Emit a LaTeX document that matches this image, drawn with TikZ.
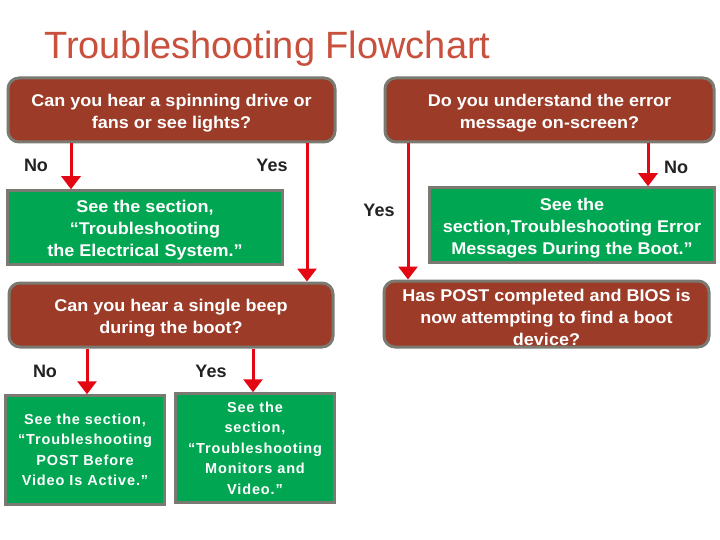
\documentclass[tikz,border=0pt]{standalone}
\usepackage{fontspec}
\setmainfont{Liberation Sans}
\newfontfamily\spaced[LetterSpace=6]{Liberation Sans}
\newfontfamily\wide[FakeStretch=1.06]{Liberation Sans}
\usetikzlibrary{arrows.meta}
\definecolor{titlered}{HTML}{C8503C}
\definecolor{boxred}{HTML}{9C3B27}
\definecolor{boxgreen}{HTML}{00A651}
\definecolor{bordergray}{HTML}{7A7A72}
\definecolor{arrowred}{HTML}{E30613}
\definecolor{labelblack}{HTML}{222222}
\newcommand\dnstrut{\rule{0pt}{18.5pt}}
\tikzset{
  qbox/.style={draw=bordergray, line width=3pt, fill=boxred, rounded corners=11pt,
    text=white, font=\wide\bfseries\fontsize{17}{22}\selectfont, align=center, inner sep=0pt},
  gbox/.style={draw=bordergray, line width=2.5pt, fill=boxgreen,
    text=white, font=\wide\bfseries\fontsize{17}{22}\selectfont, align=center, inner sep=0pt},
  sbox/.style={draw=bordergray, line width=2.5pt, fill=boxgreen,
    text=white, font=\spaced\bfseries\fontsize{14.5}{20.5}\selectfont, align=center, inner sep=0pt},
  arr/.style={draw=arrowred, line width=3pt, -{Triangle[length=13pt,width=19pt]}},
  lbl/.style={text=labelblack, font=\bfseries\fontsize{18}{20}\selectfont, inner sep=0pt}
}
\begin{document}
\begin{tikzpicture}[x=1pt,y=-1pt]
\useasboundingbox[fill=white] (0,0) rectangle (720,540);
\node[text=titlered, font=\fontsize{38}{40}\selectfont, anchor=base west, inner sep=0pt] (title) at (44,59) {Troubleshooting Flowchart};

\node[qbox, minimum width=327pt, minimum height=64pt] (A) at (171.5,110) {\dnstrut Can you hear a spinning drive or\\fans or see lights?};
\node[qbox, minimum width=329pt, minimum height=64pt] (B) at (549.5,110) {\dnstrut Do you understand the error\\message on-screen?};
\node[gbox, minimum width=275pt, minimum height=74pt] (C) at (145,227.5) {\dnstrut See the section,\\“Troubleshooting\\the Electrical System.”};
\node[qbox, minimum width=324pt, minimum height=64pt] (D) at (171,315) {\dnstrut Can you hear a single beep\\during the boot?};
\node[gbox, minimum width=285pt, minimum height=75pt] (E) at (572,225) {\dnstrut See the\\section,Troubleshooting Error\\Messages During the Boot.”};
\node[qbox, minimum width=325pt, minimum height=66pt] (F) at (546.5,314) {\dnstrut Has POST completed and BIOS is\\now attempting to find a boot\\device?};
\node[sbox, minimum width=159pt, minimum height=109pt] (G) at (85,450) {See the section,\\“Troubleshooting\\POST Before\\Video Is Active.”};
\node[sbox, minimum width=159pt, minimum height=109pt] (H) at (255,448) {See the\\section,\\“Troubleshooting\\Monitors and\\Video.”};

\coordinate (x1) at (71,0);
\coordinate (x2) at (307,0);
\coordinate (x3) at (408,0);
\coordinate (x4) at (648,0);
\coordinate (x5) at (87,0);
\coordinate (x6) at (253,0);

\draw[arr] (A.south -| x1) -- (C.north -| x1);
\draw[arr] (A.south -| x2) -- (D.north -| x2);
\draw[arr] (B.south -| x3) -- (F.north -| x3);
\draw[arr] (B.south -| x4) -- (E.north -| x4);
\draw[arr] (D.south -| x5) -- (G.north -| x5);
\draw[arr] (D.south -| x6) -- (H.north -| x6);

\node[lbl] (l1) at (36,165) {No};
\node[lbl] (l2) at (272,165) {Yes};
\node[lbl] (l3) at (379,210) {Yes};
\node[lbl] (l4) at (676,167) {No};
\node[lbl] (l5) at (45,371) {No};
\node[lbl] (l6) at (211,371) {Yes};
\end{tikzpicture}
\end{document}
